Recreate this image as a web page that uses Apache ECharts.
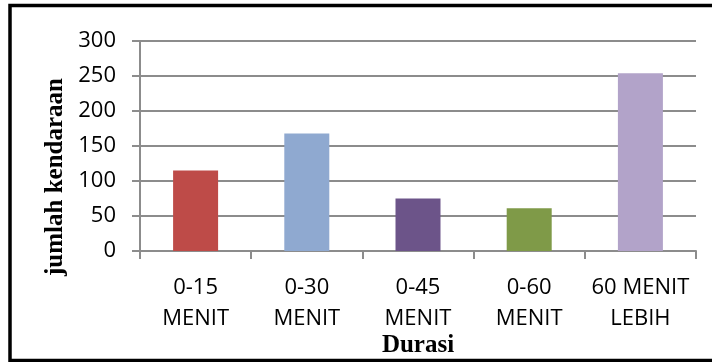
<!DOCTYPE html>
<html>
<head>
<meta charset="utf-8">
<script src="https://cdn.jsdelivr.net/npm/echarts@6/dist/echarts.min.js"></script>
<style>
  html, body { margin: 0; padding: 0; background: #fff; }
  #chart { width: 712px; height: 362px; }
</style>
</head>
<body>
<div id="chart"></div>
<script>
// Parking duration categories and vehicle counts
const categories = ['0-15\nMENIT', '0-30\nMENIT', '0-45\nMENIT', '0-60\nMENIT', '60 MENIT\nLEBIH'];
const counts = [115, 168, 75, 61, 254];
const yTicks = { min: 0, max: 300, interval: 50 };
const yTitle = 'jumlah kendaraan';
const xTitle = 'Durasi';

const barColors = ['#BE4B48', '#8FA9D0', '#6C5489', '#7F9A48', '#B2A3C9'];
const gridGray = '#8c8c8c';

const chart = echarts.init(document.getElementById('chart'), null, { renderer: 'canvas' });

chart.setOption({
  animation: false,
  backgroundColor: '#ffffff',
  grid: {
    left: 140, right: 16, top: 41, bottom: 111,
    containLabel: false, outerBoundsMode: 'none'
  },
  xAxis: {
    type: 'category',
    data: categories,
    name: xTitle,
    nameLocation: 'middle',
    nameGap: 82,
    nameMoveOverlap: false,
    nameTextStyle: {
      fontFamily: 'Liberation Serif', fontWeight: 'bold', fontSize: 25, color: '#000'
    },
    axisLine: { lineStyle: { color: gridGray, width: 2 } },
    axisTick: { show: true, length: 8, lineStyle: { color: gridGray, width: 2 } },
    axisLabel: {
      interval: 0, margin: 21, lineHeight: 31,
      fontFamily: 'Open Sans', fontSize: 22, color: '#000'
    }
  },
  yAxis: {
    type: 'value',
    min: yTicks.min, max: yTicks.max, interval: yTicks.interval,
    axisLine: { show: true, lineStyle: { color: gridGray, width: 2 } },
    axisTick: { show: true, length: 8, lineStyle: { color: gridGray, width: 2 } },
    splitLine: { show: true, lineStyle: { color: gridGray, width: 2 } },
    axisLabel: { margin: 24, fontFamily: 'Open Sans', fontSize: 22, color: '#000' }
  },
  series: [{
    type: 'bar',
    barWidth: 45,
    data: counts.map((v, i) => ({ value: v, itemStyle: { color: barColors[i] } }))
  }],
  graphic: [
    {
      type: 'rect',
      shape: { x: 10, y: 5.5, width: 720, height: 355 },
      style: { fill: 'none', stroke: '#000', lineWidth: 3.5 },
      silent: true
    },
    {
      type: 'text',
      x: 56, y: 177,
      rotation: Math.PI / 2,
      style: {
        text: yTitle,
        fontFamily: 'Liberation Serif', fontWeight: 'bold', fontSize: 25,
        fill: '#000', align: 'center', verticalAlign: 'middle'
      }
    }
  ]
});
</script>
</body>
</html>
